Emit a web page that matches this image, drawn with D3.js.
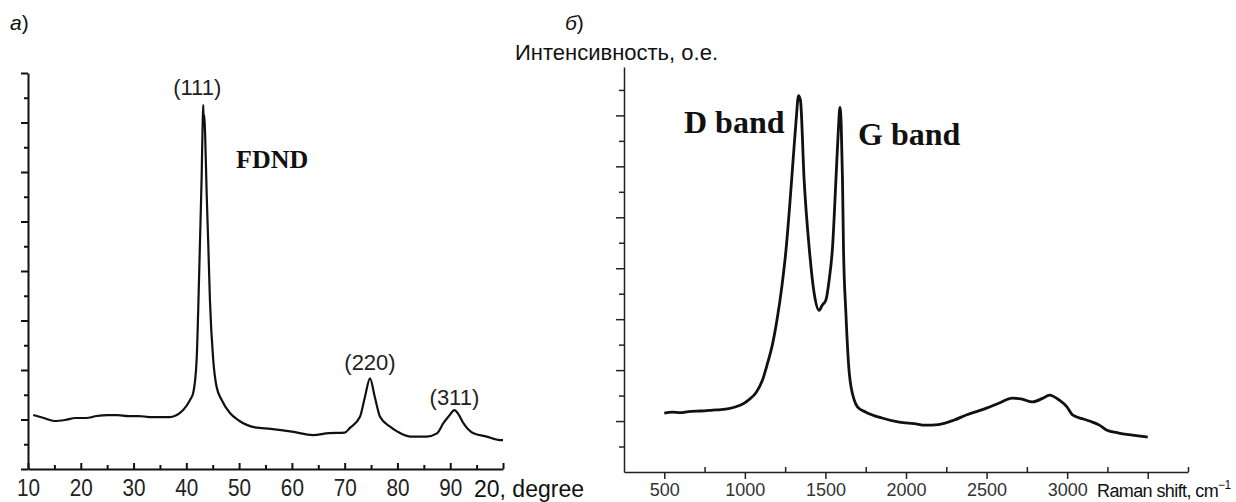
<!DOCTYPE html>
<html>
<head>
<meta charset="utf-8">
<script src="https://cdn.jsdelivr.net/npm/d3@7/dist/d3.min.js"></script>
<style>
  html, body { margin: 0; padding: 0; background: #fff; }
  svg { display: block; }
</style>
</head>
<body>
<svg id="chart" width="1236" height="502"></svg>
<script>
// a) XRD pattern, 2theta in degrees vs intensity (tick units)
const xrd_angle = [11, 13, 15, 17, 19, 21, 23, 25, 27, 29, 31, 33, 35, 36.9, 39.4, 40.7, 41.3, 41.95, 42.25, 42.58, 42.9, 43.08, 43.2, 43.3, 43.4, 43.55, 43.85, 44.15, 44.47, 45.1, 45.74, 46.7, 48.26, 50, 53, 56, 60, 64, 67, 70, 71, 72.9, 73.85, 74.8, 75.7, 76.7, 78.6, 80, 82.4, 85.5, 87.5, 88.7, 89.8, 90.8, 91.6, 92.5, 94.4, 96.9, 99.4, 100];
const xrd_intensity = [2.18, 2.06, 1.94, 1.98, 2.06, 2.06, 2.14, 2.18, 2.18, 2.14, 2.14, 2.1, 2.1, 2.1, 2.38, 2.79, 3.07, 4.4, 6.42, 9.13, 11.8, 13.82, 14.71, 13.9, 14.3, 13.6, 11.15, 9.13, 6.83, 4.4, 3.31, 2.79, 2.26, 1.95, 1.68, 1.62, 1.51, 1.37, 1.45, 1.47, 1.66, 2.11, 2.92, 3.66, 2.92, 2.11, 1.71, 1.51, 1.31, 1.31, 1.44, 1.85, 2.15, 2.38, 2.2, 1.85, 1.44, 1.31, 1.17, 1.17];
const xrd_ticks = [10, 20, 30, 40, 50, 60, 70, 80, 90];
const xrd_peaks = [43.2, 74.8, 90.8];
const xrd_peak_labels = ["(111)", "(220)", "(311)"];

// b) Raman spectrum, shift in cm-1 vs intensity (tick units)
const raman_shift = [500, 550, 600, 650, 700, 750, 800, 850, 900, 944, 990, 1026, 1070, 1109, 1140, 1171, 1200, 1230, 1255, 1280, 1300, 1318, 1333, 1345, 1368, 1399, 1430, 1461, 1480, 1503, 1523, 1544, 1565, 1580, 1590, 1598, 1606, 1612, 1627, 1648, 1679, 1700, 1751, 1850, 1958, 2050, 2122, 2200, 2300, 2374, 2450, 2500, 2579, 2660, 2720, 2784, 2850, 2890, 2952, 3000, 3033, 3100, 3157, 3200, 3244, 3320, 3405, 3500];
const raman_intensity = [2.31, 2.35, 2.33, 2.37, 2.39, 2.4, 2.43, 2.45, 2.49, 2.56, 2.68, 2.84, 3.12, 3.6, 4.25, 5.0, 6.0, 7.3, 8.7, 10.6, 12.3, 13.8, 14.78, 14.59, 11.45, 8.82, 7.02, 6.35, 6.55, 6.75, 7.53, 8.82, 11.45, 13.41, 14.31, 13.61, 11.45, 8.82, 6.24, 3.88, 2.82, 2.55, 2.35, 2.12, 1.96, 1.9, 1.84, 1.86, 2.04, 2.24, 2.4, 2.51, 2.71, 2.9, 2.86, 2.75, 2.9, 3.02, 2.82, 2.55, 2.24, 2.08, 1.96, 1.84, 1.65, 1.53, 1.45, 1.37];
const raman_ticks = [500, 1000, 1500, 2000, 2500, 3000];
const raman_band_labels = ["D band", "G band"];

const svg = d3.select("#chart");
const sans = "'Liberation Sans', Arial, sans-serif";
const serif = "'Liberation Serif', 'Times New Roman', serif";

// ---------- panel a ----------
const x_a = d3.scaleLinear().domain([10, 100]).range([28, 503]);
const y_a = d3.scaleLinear().domain([0, 16]).range([469, 73]);

const ga = svg.append("g");

// y axis: major ticks on even units, minor on odd ones, outward
ga.append("g")
  .attr("transform", `translate(${x_a(10)},0)`)
  .call(d3.axisLeft(y_a).tickValues(d3.range(1, 16, 2)).tickSize(4).tickFormat("").tickSizeOuter(0))
  .call(g => g.select(".domain").remove());
ga.append("g")
  .attr("transform", `translate(${x_a(10)},0)`)
  .call(d3.axisLeft(y_a).tickValues(d3.range(0, 17, 2)).tickSize(7).tickFormat("").tickSizeOuter(0));

// x axis: ticks pointing up
ga.append("g")
  .attr("transform", `translate(0,${y_a(0)})`)
  .call(d3.axisBottom(x_a).tickValues(d3.range(15, 100, 10)).tickSize(-4).tickFormat("").tickSizeOuter(0))
  .call(g => g.select(".domain").remove());
ga.append("g")
  .attr("class", "xa")
  .attr("transform", `translate(0,${y_a(0)})`)
  .call(d3.axisBottom(x_a).tickValues(xrd_ticks.concat([100])).tickSize(-6).tickPadding(11)
    .tickFormat(d => xrd_ticks.includes(d) ? d : "").tickSizeOuter(0));

ga.selectAll(".domain, .tick line").attr("stroke", "#111").attr("stroke-width", 2);
ga.selectAll(".xa text")
  .attr("font-family", sans).attr("font-size", 23).attr("fill", "#222")
  .attr("transform", "scale(0.9,1)");

ga.append("text")
  .attr("x", 474).attr("y", 497)
  .attr("font-family", sans).attr("font-size", 23).attr("fill", "#111")
  .text("20, degree");

ga.append("path")
  .datum(xrd_angle.map((a, i) => [a, xrd_intensity[i]]))
  .attr("fill", "none").attr("stroke", "#111").attr("stroke-width", 2.2)
  .attr("stroke-linejoin", "round")
  .attr("d", d3.line().x(d => x_a(d[0])).y(d => y_a(d[1])).curve(d3.curveMonotoneX));

const peak_y = a => {
  const i = d3.minIndex(xrd_angle, v => Math.abs(v - a));
  return y_a(xrd_intensity[i]);
};
ga.selectAll("text.peak")
  .data(xrd_peaks)
  .join("text")
  .attr("class", "peak")
  .attr("x", (d, i) => x_a(d) + (i === 0 ? -6 : 0))
  .attr("y", (d, i) => peak_y(d) - [10, 8, 5][i])
  .attr("text-anchor", "middle")
  .attr("font-family", sans).attr("font-size", 22).attr("fill", "#222")
  .text((d, i) => xrd_peak_labels[i]);

ga.append("text")
  .attr("x", 236).attr("y", 168)
  .attr("font-family", serif).attr("font-weight", "bold").attr("font-size", 26).attr("fill", "#111")
  .text("FDND");

ga.append("text")
  .attr("x", 10).attr("y", 30)
  .attr("font-family", sans).attr("font-size", 21).attr("fill", "#111")
  .call(t => t.append("tspan").attr("font-style", "italic").text("а"))
  .call(t => t.append("tspan").text(")"));

// ---------- panel b ----------
const x_b = d3.scaleLinear().domain([250, 3750]).range([624, 1188]);
const y_b = d3.scaleLinear().domain([0, 15.9]).range([472, 67]);

const gb = svg.append("g");

gb.append("g")
  .attr("transform", `translate(${x_b(250)},0)`)
  .call(d3.axisLeft(y_b).tickValues(d3.range(1, 16, 2)).tickSize(5).tickFormat("").tickSizeOuter(0));
gb.append("g")
  .attr("transform", `translate(${x_b(250)},0)`)
  .call(d3.axisLeft(y_b).tickValues(d3.range(2, 16, 2)).tickSize(8).tickFormat("").tickSizeOuter(0))
  .call(g => g.select(".domain").remove());

gb.append("g")
  .attr("transform", `translate(0,${y_b(0)})`)
  .call(d3.axisBottom(x_b).tickValues(d3.range(750, 3800, 500)).tickSize(-5).tickFormat("").tickSizeOuter(0))
  .call(g => g.select(".domain").remove());
gb.append("g")
  .attr("class", "xb")
  .attr("transform", `translate(0,${y_b(0)})`)
  .call(d3.axisBottom(x_b).tickValues(raman_ticks.concat([3500])).tickSize(7).tickPadding(4)
    .tickFormat(d => raman_ticks.includes(d) ? d : "").tickSizeOuter(0));

gb.selectAll(".domain, .tick line").attr("stroke", "#222").attr("stroke-width", 1.5);
gb.selectAll(".xb text")
  .attr("font-family", sans).attr("font-size", 18).attr("fill", "#333");

gb.append("text")
  .attr("x", 1097).attr("y", 497)
  .attr("font-family", sans).attr("font-size", 18).attr("fill", "#111")
  .attr("letter-spacing", -0.6)
  .call(t => t.append("tspan").text("Raman shift, cm"))
  .call(t => t.append("tspan").attr("font-size", 12).attr("dy", -8).text("−1"));

gb.append("text")
  .attr("x", 718).attr("y", 60)
  .attr("text-anchor", "end")
  .attr("font-family", sans).attr("font-size", 22).attr("fill", "#111")
  .text("Интенсивность, о.е.");

gb.append("text")
  .attr("x", 565).attr("y", 30)
  .attr("font-family", sans).attr("font-size", 21).attr("fill", "#111")
  .call(t => t.append("tspan").attr("font-style", "italic").text("б"))
  .call(t => t.append("tspan").text(")"));

gb.append("path")
  .datum(raman_shift.map((s, i) => [s, raman_intensity[i]]))
  .attr("fill", "none").attr("stroke", "#111").attr("stroke-width", 2.8)
  .attr("stroke-linejoin", "round")
  .attr("d", d3.line().x(d => x_b(d[0])).y(d => y_b(d[1])).curve(d3.curveMonotoneX));

gb.selectAll("text.band")
  .data(raman_band_labels)
  .join("text")
  .attr("class", "band")
  .attr("x", (d, i) => [684, 858][i])
  .attr("y", (d, i) => [133, 145][i])
  .attr("font-family", serif).attr("font-weight", "bold").attr("font-size", 32).attr("fill", "#111")
  .text(d => d);
</script>
</body>
</html>
